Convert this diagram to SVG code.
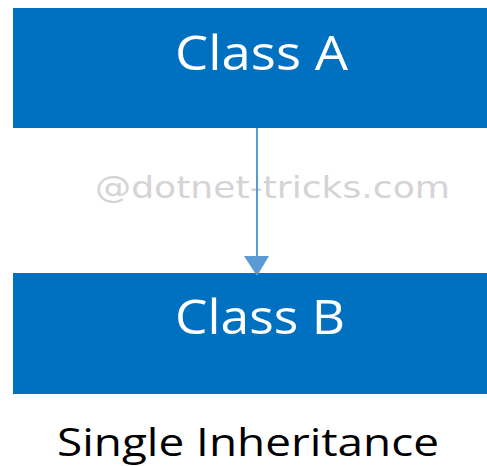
<svg xmlns="http://www.w3.org/2000/svg" width="487" height="466" viewBox="0 0 487 466">
<style>
.box{fill:#0070C0}
.lbl{font-family:"Open Sans","Noto Sans",sans-serif;font-size:47px;fill:#ffffff;text-anchor:middle}
.wm{font-family:"DejaVu Sans",sans-serif;font-size:30px;fill:#d6d3d6}
.cap{font-family:"Open Sans","Noto Sans",sans-serif;font-size:38px;fill:#000000}
.edge{stroke:#5B9BD5;stroke-width:2;fill:none}
</style>
<rect width="487" height="466" fill="#ffffff"/>
<text class="wm" x="95" y="198" textLength="355" lengthAdjust="spacingAndGlyphs">@dotnet-tricks.com</text>
<g id="classA">
<rect class="box" x="13" y="8" width="474" height="120"/>
<text class="lbl" x="261.5" y="70" textLength="173" lengthAdjust="spacingAndGlyphs">Class A</text>
</g>
<g id="classB">
<rect class="box" x="13" y="273" width="474" height="121"/>
<text class="lbl" x="260" y="334" textLength="170" lengthAdjust="spacingAndGlyphs">Class B</text>
</g>
<g id="connectors">
<line class="edge" x1="257" y1="128" x2="257" y2="258"/>
<path d="M244,256 L269,256 L257,276 Z" fill="#5B9BD5"/>
</g>
<text class="cap" x="57" y="456" textLength="382" lengthAdjust="spacingAndGlyphs">Single Inheritance</text>
</svg>
